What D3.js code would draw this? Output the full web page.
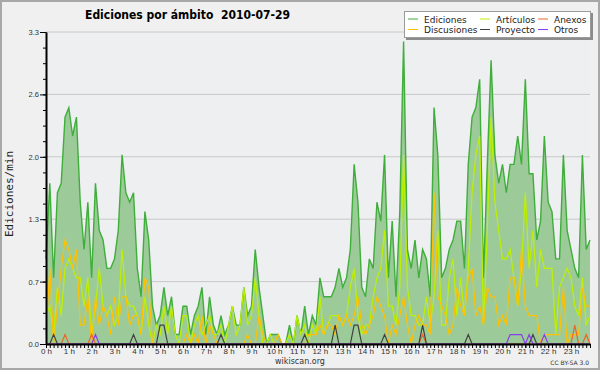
<!DOCTYPE html>
<html>
<head>
<meta charset="utf-8">
<script src="https://cdn.jsdelivr.net/npm/d3@7"></script>
<style>
  body { margin: 0; background: #f0f0f0; }
  svg { display: block; font-family: "DejaVu Sans", sans-serif; }
  .axis text { fill: #333; }
  .axis path, .axis line { stroke: #000; }
</style>
</head>
<body>
<div id="chart"></div>
<script>
// 10-minute buckets, 0:00 .. 23:50 (edits per minute)
var hourLabels = ["0 h","1 h","2 h","3 h","4 h","5 h","6 h","7 h","8 h","9 h","10 h","11 h",
                  "12 h","13 h","14 h","15 h","16 h","17 h","18 h","19 h","20 h","21 h","22 h","23 h"];
var yTicks = [0, 0.66, 1.32, 1.98, 2.64, 3.3];

var ediciones = [
  0.9,1.7,0.7,1.6,1.7,2.4,2.5,2.2,2.4,1.5,1.0,1.5,
  0.7,1.7,1.2,1.1,0.8,0.8,0.9,1.2,2.0,1.6,1.5,1.6,
  0.8,0.5,1.4,1.1,0.4,0.2,0.3,0.6,0.3,0.5,0.1,0.1,
  0.4,0.4,0.1,0.3,0.4,0.6,0.1,0.5,0.2,0.1,0.3,0.1,
  0.2,0.4,0.2,0.2,0.6,0.3,0.4,1.0,0.6,0.3,0.0,0.1,
  0.1,0.1,0.0,0.0,0.2,0.0,0.3,0.1,0.4,0.1,0.3,0.2,
  0.7,0.5,0.5,0.5,0.6,0.8,0.6,0.7,1.0,1.9,1.5,0.6,
  0.5,0.9,0.8,1.5,1.3,2.0,0.7,1.3,0.5,1.4,3.2,1.0,
  0.8,1.1,0.7,1.0,0.9,0.5,2.5,2.0,0.7,0.8,1.0,1.1,
  1.3,1.3,0.8,1.9,2.4,2.5,2.8,0.7,1.9,3.0,2.0,1.7,
  1.9,1.6,1.9,1.9,2.2,1.9,2.8,1.8,1.8,1.1,1.3,2.2,
  1.5,1.4,0.9,0.9,2.0,1.2,1.0,0.8,0.7,2.0,1.0,1.1
];
var articulos = [
  0.3,0.4,0.1,0.6,0.3,0.8,0.9,0.8,0.7,0.7,0.4,0.7,
  0.1,0.4,0.8,0.4,0.3,0.4,0.2,0.3,1.0,0.5,0.4,0.4,
  0.3,0.1,0.5,0.2,0.0,0.2,0.1,0.4,0.1,0.4,0.1,0.0,
  0.3,0.3,0.0,0.2,0.3,0.1,0.2,0.3,0.1,0.1,0.2,0.0,
  0.2,0.4,0.1,0.2,0.6,0.2,0.3,0.7,0.3,0.0,0.0,0.1,
  0.0,0.0,0.0,0.0,0.1,0.0,0.3,0.1,0.2,0.0,0.2,0.1,
  0.5,0.1,0.2,0.3,0.3,0.3,0.2,0.3,0.6,0.8,0.3,0.1,
  0.2,0.2,0.5,0.7,0.8,1.2,0.4,0.4,0.2,0.6,2.0,0.6,
  0.3,0.3,0.2,0.2,0.5,0.2,0.5,1.2,0.2,0.2,0.7,0.9,
  0.3,0.7,0.3,0.8,1.6,2.0,2.2,0.2,1.2,2.4,1.5,1.2,
  0.9,0.9,1.0,0.7,0.4,0.8,1.6,0.8,1.2,0.6,1.0,0.8,
  0.8,0.8,0.1,0.6,0.7,0.8,0.7,0.4,0.3,0.7,0.2,0.3
];
var discusiones = [
  0.1,0.8,0.0,0.4,0.8,1.1,1.0,0.8,1.0,0.2,0.2,0.5,
  0.0,0.5,0.2,0.4,0.3,0.1,0.5,0.2,0.5,0.5,0.2,0.3,
  0.3,0.1,0.7,0.6,0.0,0.0,0.0,0.0,0.0,0.0,0.0,0.0,
  0.0,0.1,0.0,0.1,0.0,0.3,0.0,0.2,0.1,0.0,0.0,0.0,
  0.0,0.0,0.0,0.0,0.0,0.1,0.0,0.0,0.3,0.1,0.0,0.0,
  0.0,0.1,0.0,0.0,0.0,0.0,0.0,0.0,0.0,0.1,0.1,0.1,
  0.2,0.1,0.2,0.2,0.1,0.3,0.2,0.3,0.2,0.3,0.5,0.2,
  0.1,0.2,0.3,0.5,0.4,0.3,0.0,0.2,0.1,0.3,0.5,0.2,
  0.0,0.2,0.3,0.2,0.2,0.1,1.6,0.5,0.4,0.3,0.1,0.2,
  0.6,0.4,0.3,0.7,0.8,0.3,0.4,0.2,0.6,0.5,0.5,0.2,
  0.3,0.2,0.7,0.7,0.4,1.0,0.4,0.3,0.3,0.3,0.0,0.1,
  0.1,0.1,0.1,0.1,0.6,0.0,0.1,0.1,0.1,0.6,0.4,0.4
];
var anexos = [
  0,0,0,0,0,0.1,0,0,0,0,0,0,
  0.1,0,0,0,0,0,0,0,0,0,0,0,
  0,0,0,0,0,0,0,0,0,0,0,0,
  0,0,0,0,0,0,0,0,0,0,0,0,
  0,0,0,0,0,0,0,0,0,0,0,0,
  0,0,0,0,0,0,0,0,0,0,0,0,
  0,0,0,0,0,0,0,0,0,0,0,0,
  0,0,0,0,0,0,0,0,0,0,0,0,
  0,0,0,0.1,0,0,0,0,0,0,0,0,
  0,0,0,0,0,0,0,0,0,0,0,0,
  0,0,0,0,0,0,0,0,0,0,0,0,
  0,0,0,0,0,0,0,0.2,0,0,0.1,0
];
var proyecto = [
  0,0,0.1,0,0,0,0,0,0,0,0,0,
  0,0,0,0,0,0,0,0,0,0,0,0.1,
  0,0,0,0,0,0,0.2,0.2,0,0,0,0,
  0,0,0,0,0,0,0,0,0,0,0.1,0,
  0,0,0,0,0,0,0,0,0,0,0,0,
  0,0,0,0,0,0,0,0,0.1,0,0,0,
  0,0,0,0,0.2,0,0,0,0,0.2,0.2,0,
  0,0,0,0,0,0.1,0,0,0,0,0,0,
  0,0,0,0.2,0,0,0,0,0,0,0,0,
  0,0,0,0.1,0,0,0,0,0,0,0,0,
  0,0,0,0,0,0,0,0,0.1,0,0,0,
  0,0,0,0,0,0,0,0,0,0,0,0
];
var otros = [
  0,0,0,0,0,0,0,0,0,0,0,0,
  0,0.1,0,0,0,0,0,0,0,0,0,0,
  0,0,0,0,0,0,0,0,0,0,0,0,
  0,0,0,0,0,0,0,0,0,0,0,0,
  0,0,0,0,0,0,0,0,0,0,0,0,
  0,0,0,0,0,0,0,0,0,0,0,0,
  0,0,0,0,0,0,0,0,0,0,0,0,
  0,0,0,0,0,0,0,0,0,0,0,0,
  0,0,0,0,0,0,0,0,0,0,0,0,
  0,0,0,0,0,0,0,0,0,0,0,0,
  0,0,0.1,0.1,0.1,0.1,0,0.1,0,0,0,0.1,
  0,0,0,0,0,0,0,0,0,0,0,0
];

var series = [
  {name: "Artículos",   values: articulos,   color: "#bff000"},
  {name: "Discusiones", values: discusiones, color: "#ffc000"},
  {name: "Anexos",      values: anexos,      color: "#f06428"},
  {name: "Proyecto",    values: proyecto,    color: "#404040"},
  {name: "Otros",       values: otros,       color: "#8a3cf0"}
];
var legendItems = [
  {name: "Ediciones",   color: "#3fae3a", col: 0, row: 0},
  {name: "Discusiones", color: "#ffc000", col: 0, row: 1},
  {name: "Artículos",   color: "#bff000", col: 1, row: 0},
  {name: "Proyecto",    color: "#404040", col: 1, row: 1},
  {name: "Anexos",      color: "#f06428", col: 2, row: 0},
  {name: "Otros",       color: "#8a3cf0", col: 2, row: 1}
];

var W = 600, H = 370;
var margin = {top: 32, right: 10, bottom: 26, left: 46},
    width = W - margin.left - margin.right,
    height = H - margin.top - margin.bottom;

var svg = d3.select("#chart").append("svg")
    .attr("width", W).attr("height", H);

// frame
svg.append("rect").attr("x", 1).attr("y", 1).attr("width", W - 2).attr("height", H - 2)
   .attr("fill", "#f0f0f0").attr("stroke", "#a8a8a8").attr("stroke-width", 2);

var g = svg.append("g").attr("transform", "translate(" + margin.left + "," + margin.top + ")");

var xScale = d3.scaleLinear().domain([0, ediciones.length - 1]).range([0, width]);
var yScale = d3.scaleLinear().domain([0, 3.3]).range([height, 0]);

g.append("rect").attr("width", width).attr("height", height).attr("fill", "#edeff1");

// grid
g.selectAll(".grid").data(yTicks.slice(1)).enter().append("line")
  .attr("x1", 0).attr("x2", width)
  .attr("y1", function (d) { return yScale(d); })
  .attr("y2", function (d) { return yScale(d); })
  .attr("stroke", "#c8c8c8").attr("stroke-width", 1);

var area = d3.area()
    .x(function (d, i) { return xScale(i); })
    .y0(yScale(0))
    .y1(function (d) { return yScale(d); });
var line = d3.line()
    .x(function (d, i) { return xScale(i); })
    .y(function (d) { return yScale(d); });

g.append("path").datum(ediciones).attr("d", area).attr("fill", "#9ccb99");
g.append("path").datum(ediciones).attr("d", line)
  .attr("fill", "none").attr("stroke", "#3fae3a").attr("stroke-width", 1.4);

series.forEach(function (s) {
  g.append("path").datum(s.values).attr("d", line)
    .attr("fill", "none").attr("stroke", s.color).attr("stroke-width", 1.2);
});

// y axis
var minorY = d3.range(0, 21).map(function (k) { return k * 0.165; });
g.append("g").attr("class", "axis")
  .call(d3.axisLeft(yScale).tickValues(minorY).tickSize(3).tickSizeOuter(0).tickFormat(""));
var yAxis = g.append("g").attr("class", "axis")
  .call(d3.axisLeft(yScale).tickValues(yTicks).tickSize(6).tickSizeOuter(0)
        .tickPadding(1).tickFormat(d3.format(".1f")));
yAxis.selectAll("text").style("font-size", "7.5px");
yAxis.select(".domain").attr("stroke-width", 2);

// x axis
var xAxis = g.append("g").attr("class", "axis")
  .attr("transform", "translate(0," + height + ")")
  .call(d3.axisBottom(xScale).tickValues(d3.range(ediciones.length)).tickSize(4)
        .tickSizeOuter(0).tickFormat(""));
xAxis.select(".domain").attr("stroke-width", 2);
var xLab = g.append("g").attr("class", "axis")
  .attr("transform", "translate(0," + height + ")")
  .call(d3.axisBottom(xScale).tickValues(d3.range(0, 144, 6)).tickSize(4).tickPadding(0)
        .tickFormat(function (d, i) { return hourLabels[i]; }));
xLab.select(".domain").remove();
xLab.selectAll("text").style("font-size", "8px");

// titles
svg.append("text").attr("x", 85).attr("y", 19)
  .style("font-weight", "bold").style("font-size", "12px").style("white-space", "pre")
  .attr("textLength", 205).attr("lengthAdjust", "spacingAndGlyphs")
  .text("Ediciones por ámbito  2010-07-29");

svg.append("text")
  .attr("transform", "translate(13,194) rotate(-90)")
  .attr("text-anchor", "middle")
  .style("font-family", "'DejaVu Sans Mono', monospace").style("font-size", "11px")
  .attr("fill", "#222")
  .text("Ediciones/min");

svg.append("text").attr("x", 300).attr("y", 364).attr("text-anchor", "middle")
  .style("font-size", "8px").attr("fill", "#333").text("wikiscan.org");
svg.append("text").attr("x", 589).attr("y", 365).attr("text-anchor", "end")
  .style("font-size", "6px").attr("fill", "#333").text("CC BY-SA 3.0");

// legend
var lg = svg.append("g").attr("transform", "translate(404,11)");
lg.append("rect").attr("x", 2).attr("y", 2).attr("width", 187).attr("height", 27).attr("fill", "#8c8c8c");
lg.append("rect").attr("x", 0.5).attr("y", 0.5).attr("width", 186).attr("height", 26)
  .attr("fill", "#fff").attr("stroke", "#9a9a9a");
var colX = [4, 76, 134];
var li = lg.selectAll(".li").data(legendItems).enter().append("g")
  .attr("transform", function (d) { return "translate(" + colX[d.col] + "," + (8 + d.row * 10.5) + ")"; });
li.append("line").attr("x1", 0).attr("x2", 10).attr("y1", 0).attr("y2", 0)
  .attr("stroke", function (d) { return d.color; }).attr("stroke-width", 1);
li.append("text").attr("x", 16).attr("y", 3.5).style("font-size", "9px").attr("fill", "#222")
  .text(function (d) { return d.name; });
</script>
</body>
</html>
